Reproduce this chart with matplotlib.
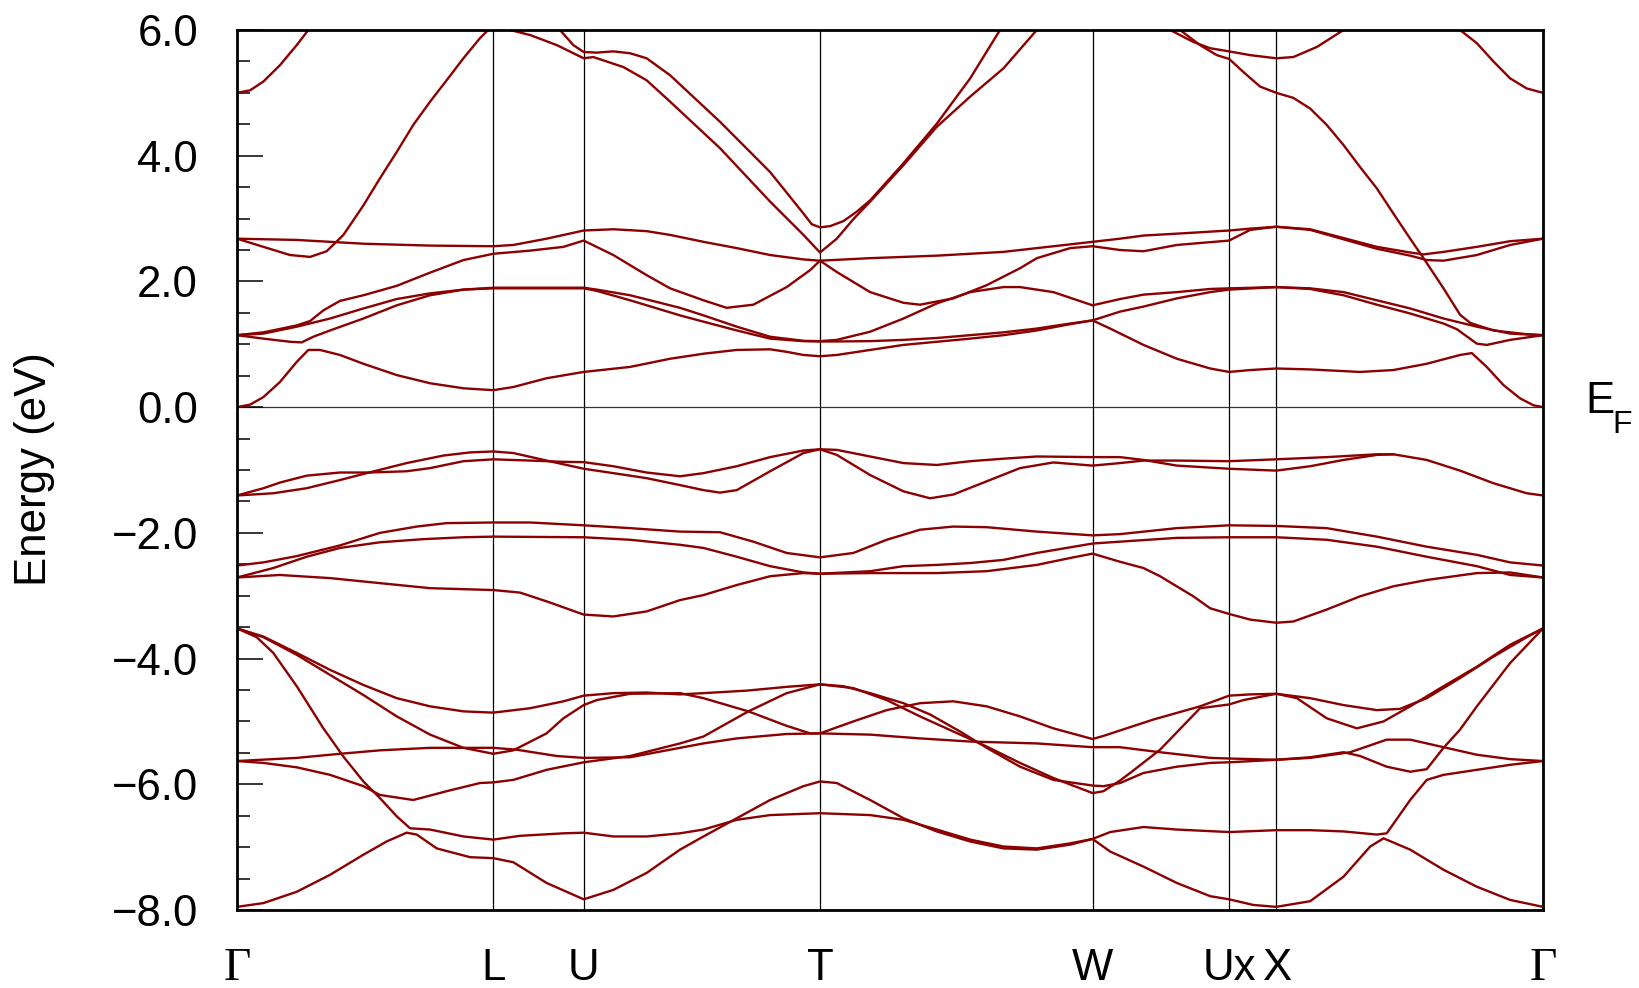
import matplotlib
matplotlib.use("Agg")
import matplotlib.pyplot as plt
from matplotlib.ticker import MultipleLocator, FuncFormatter

# ---------------- data ----------------
node_k = [0.0, 0.961, 1.30, 2.186, 3.208, 3.72, 3.897, 4.897]
node_labels = ["Γ", "L", "U", "T", "W", "Ux", "X", "Γ"]

# conduction bands
c1_k = [0, 0.049, 0.099, 0.161, 0.224, 0.2675, 0.311, 0.386, 0.474, 0.599, 0.724, 0.849, 0.961, 1.036, 1.161, 1.30,
        1.474, 1.624, 1.749, 1.874, 1.999, 2.061, 2.124, 2.186, 2.249, 2.374, 2.499, 2.624, 2.749, 2.874, 2.999, 3.124,
        3.208, 3.274, 3.399, 3.524, 3.649, 3.72, 3.799, 3.897, 4.024, 4.211, 4.336, 4.461, 4.586, 4.63, 4.686, 4.749,
        4.811, 4.861, 4.897]
c1_e = [0.0, 0.04, 0.16, 0.40, 0.72, 0.91, 0.91, 0.83, 0.69, 0.51, 0.38, 0.30, 0.27, 0.32, 0.46, 0.56,
        0.64, 0.77, 0.85, 0.91, 0.92, 0.88, 0.83, 0.81, 0.83, 0.91, 0.99, 1.04, 1.09, 1.145, 1.22, 1.32,
        1.38, 1.25, 0.99, 0.77, 0.615, 0.56, 0.59, 0.615, 0.60, 0.56, 0.59, 0.69, 0.83, 0.86, 0.64, 0.35,
        0.14, 0.03, 0.0]

c2_k = [0, 0.099, 0.199, 0.2425, 0.286, 0.349, 0.474, 0.599, 0.724, 0.849, 0.961, 1.099, 1.30, 1.349, 1.474, 1.661,
        1.749, 1.874, 1.999, 2.124, 2.186, 2.249, 2.374, 2.499, 2.624, 2.749, 2.874, 2.999, 3.124, 3.208, 3.311,
        3.399, 3.524, 3.649, 3.72, 3.897, 4.024, 4.149, 4.274, 4.399, 4.524, 4.649, 4.774, 4.897]
c2_e = [1.145, 1.09, 1.04, 1.03, 1.12, 1.22, 1.41, 1.62, 1.78, 1.87, 1.89, 1.89, 1.89, 1.85, 1.70, 1.46,
        1.36, 1.22, 1.09, 1.05, 1.045, 1.045, 1.05, 1.07, 1.10, 1.145, 1.19, 1.25, 1.33, 1.38, 1.52,
        1.60, 1.73, 1.83, 1.87, 1.91, 1.89, 1.83, 1.70, 1.57, 1.41, 1.28, 1.17, 1.145]

c3_k = [0, 0.099, 0.224, 0.349, 0.474, 0.599, 0.724, 0.849, 0.961, 1.099, 1.30, 1.349, 1.474, 1.661, 1.749, 1.874,
        1.999, 2.124, 2.186, 2.249, 2.374, 2.499, 2.624, 2.749, 2.874, 2.936, 3.061, 3.208, 3.311, 3.399, 3.524,
        3.649, 3.72, 3.897, 4.024, 4.149, 4.274, 4.399, 4.524, 4.574, 4.649, 4.686, 4.774, 4.897]
c3_e = [1.145, 1.17, 1.28, 1.41, 1.57, 1.72, 1.81, 1.87, 1.90, 1.90, 1.90, 1.87, 1.78, 1.58, 1.46, 1.28,
        1.12, 1.055, 1.05, 1.07, 1.20, 1.41, 1.65, 1.83, 1.91, 1.91, 1.83, 1.62, 1.72, 1.79, 1.83,
        1.88, 1.89, 1.91, 1.88, 1.78, 1.63, 1.49, 1.33, 1.24, 1.01, 0.99, 1.07, 1.145]

c4_k = [0, 0.099, 0.224, 0.274, 0.324, 0.386, 0.474, 0.599, 0.724, 0.849, 0.961, 1.099, 1.224, 1.30, 1.411, 1.536,
        1.624, 1.749, 1.836, 1.936, 2.061, 2.149, 2.186, 2.249, 2.374, 2.499, 2.561, 2.686, 2.811, 2.936, 2.999,
        3.124, 3.208, 3.311, 3.399, 3.524, 3.72, 3.799, 3.897, 4.024, 4.149, 4.274, 4.399, 4.461, 4.524, 4.649,
        4.774, 4.897]
c4_e = [1.145, 1.19, 1.30, 1.37, 1.54, 1.69, 1.78, 1.93, 2.14, 2.34, 2.44, 2.49, 2.55, 2.65, 2.42, 2.10,
        1.89, 1.70, 1.58, 1.63, 1.91, 2.18, 2.33, 2.15, 1.83, 1.66, 1.63, 1.73, 1.94, 2.21, 2.37,
        2.53, 2.56, 2.50, 2.48, 2.58, 2.65, 2.82, 2.87, 2.82, 2.67, 2.52, 2.41, 2.34, 2.33, 2.42,
        2.58, 2.68]

c5_k = [0, 0.224, 0.474, 0.724, 0.961, 1.036, 1.161, 1.30, 1.411, 1.536, 1.624, 1.749, 1.874, 1.999, 2.124, 2.186,
        2.374, 2.624, 2.874, 2.999, 3.208, 3.311, 3.399, 3.524, 3.72, 3.799, 3.897, 4.024, 4.149, 4.274, 4.399,
        4.449, 4.524, 4.649, 4.774, 4.897]
c5_e = [2.68, 2.66, 2.60, 2.57, 2.56, 2.58, 2.68, 2.81, 2.83, 2.80, 2.74, 2.63, 2.53, 2.42, 2.35, 2.33,
        2.37, 2.41, 2.47, 2.53, 2.63, 2.68, 2.73, 2.76, 2.81, 2.84, 2.87, 2.83, 2.69, 2.55, 2.46,
        2.43, 2.47, 2.55, 2.64, 2.68]

c6_k = [0, 0.099, 0.199, 0.274, 0.336, 0.399, 0.474, 0.536, 0.599, 0.661, 0.724, 0.786, 0.849, 0.911, 0.961, 1.024,
        1.099, 1.199, 1.30, 1.336, 1.449, 1.536, 1.624, 1.811, 1.999, 2.124, 2.186, 2.249, 2.311, 2.374, 2.499,
        2.624, 2.749, 2.874, 2.999, 3.061]
c6_e = [2.68, 2.55, 2.42, 2.39, 2.48, 2.74, 3.21, 3.64, 4.06, 4.49, 4.86, 5.20, 5.55, 5.87, 6.08, 6.0,
        5.92, 5.76, 5.55, 5.57, 5.41, 5.20, 4.86, 4.12, 3.27, 2.74, 2.46, 2.68, 2.99, 3.27, 3.85,
        4.46, 4.94, 5.39, 6.0, 6.35]

c7a_k = [0, 0.049, 0.099, 0.161, 0.224, 0.2675, 0.30]
c7a_e = [5.0, 5.04, 5.18, 5.44, 5.76, 6.0, 6.2]
c7b_k = [4.524, 4.586, 4.649, 4.711, 4.774, 4.836, 4.897]
c7b_e = [6.3, 6.0, 5.79, 5.50, 5.23, 5.07, 5.0]

h2_k = [1.161, 1.211, 1.261, 1.30, 1.349, 1.411, 1.474, 1.536, 1.624, 1.811, 1.999, 2.124, 2.155, 2.186, 2.224,
        2.274, 2.324, 2.374, 2.499, 2.624, 2.749, 2.861, 2.936]
h2_e = [6.3, 6.0, 5.76, 5.65, 5.64, 5.66, 5.63, 5.55, 5.28, 4.54, 3.74, 3.08, 2.91, 2.86, 2.88,
        2.96, 3.11, 3.29, 3.88, 4.51, 5.23, 6.0, 6.45]

hA_k = [3.461, 3.499, 3.586, 3.649, 3.72, 3.799, 3.897, 3.961, 4.049, 4.149, 4.199]
hA_e = [6.25, 6.0, 5.81, 5.71, 5.66, 5.60, 5.55, 5.57, 5.73, 6.0, 6.25]

hB_k = [3.499, 3.536, 3.611, 3.674, 3.72, 3.774, 3.836, 3.897, 3.961, 4.024, 4.086, 4.149, 4.211, 4.274, 4.336,
        4.399, 4.449, 4.524, 4.586, 4.624, 4.711, 4.836, 4.897]
hB_e = [6.25, 6.0, 5.76, 5.60, 5.54, 5.33, 5.10, 5.0, 4.92, 4.75, 4.49, 4.17, 3.82, 3.48, 3.08,
        2.68, 2.37, 1.89, 1.47, 1.34, 1.22, 1.16, 1.145]

# valence bands
vT1_k = [0, 0.136, 0.261, 0.386, 0.486, 0.636, 0.774, 0.874, 0.961, 1.036, 1.161, 1.30, 1.411, 1.536, 1.661, 1.749,
         1.811, 1.874, 1.999, 2.124, 2.186, 2.249, 2.374, 2.499, 2.599, 2.686, 2.811, 2.936, 3.061, 3.208, 3.311,
         3.399, 3.524, 3.72, 3.897, 4.086, 4.274, 4.336, 4.461, 4.586, 4.711, 4.836, 4.897]
vT1_e = [-1.405, -1.37, -1.29, -1.16, -1.05, -0.89, -0.77, -0.72, -0.705, -0.73, -0.85, -0.98, -1.05, -1.13, -1.24,
         -1.32, -1.36, -1.32, -1.02, -0.73, -0.67, -0.76, -1.08, -1.34, -1.45, -1.39, -1.18, -0.97, -0.88, -0.93,
         -0.89, -0.85, -0.85, -0.86, -0.83, -0.795, -0.75, -0.75, -0.84, -1.01, -1.21, -1.37, -1.405]

vT2_k = [0, 0.099, 0.161, 0.261, 0.386, 0.499, 0.636, 0.724, 0.849, 0.961, 1.099, 1.224, 1.30, 1.411, 1.536, 1.661,
         1.749, 1.874, 1.999, 2.124, 2.186, 2.249, 2.374, 2.499, 2.624, 2.749, 2.874, 2.999, 3.208, 3.311, 3.399,
         3.524, 3.72, 3.897, 4.024, 4.149, 4.274, 4.336]
vT2_e = [-1.405, -1.29, -1.20, -1.09, -1.04, -1.04, -1.02, -0.97, -0.86, -0.83, -0.85, -0.87, -0.875, -0.94, -1.04,
         -1.10, -1.05, -0.94, -0.795, -0.69, -0.67, -0.68, -0.785, -0.89, -0.92, -0.86, -0.82, -0.785, -0.795,
         -0.795, -0.84, -0.93, -0.98, -1.01, -0.94, -0.84, -0.76, -0.75]

vM1_k = [0, 0.099, 0.224, 0.386, 0.536, 0.674, 0.786, 0.961, 1.099, 1.30, 1.474, 1.661, 1.811, 1.936, 2.061, 2.186,
         2.311, 2.436, 2.561, 2.686, 2.811, 2.999, 3.208, 3.311, 3.524, 3.72, 3.897, 4.086, 4.274, 4.461, 4.649,
         4.774, 4.897]
vM1_e = [-2.52, -2.47, -2.37, -2.20, -2.00, -1.90, -1.845, -1.835, -1.835, -1.88, -1.925, -1.98, -1.99, -2.14,
         -2.32, -2.39, -2.32, -2.11, -1.95, -1.90, -1.91, -1.98, -2.04, -2.02, -1.925, -1.88, -1.89, -1.925,
         -2.06, -2.22, -2.35, -2.47, -2.52]

vM2_k = [0, 0.136, 0.261, 0.386, 0.536, 0.699, 0.849, 0.961, 1.30, 1.474, 1.661, 1.749, 1.874, 1.999, 2.124, 2.186,
         2.374, 2.499, 2.624, 2.749, 2.874, 2.999, 3.208, 3.311, 3.524, 3.72, 3.897, 4.086, 4.274, 4.461, 4.649,
         4.774, 4.897]
vM2_e = [-2.71, -2.56, -2.38, -2.24, -2.15, -2.10, -2.07, -2.06, -2.07, -2.11, -2.19, -2.24, -2.38, -2.53, -2.63,
         -2.65, -2.61, -2.53, -2.51, -2.48, -2.43, -2.32, -2.17, -2.14, -2.08, -2.07, -2.07, -2.11, -2.22, -2.38,
         -2.53, -2.67, -2.71]

vM3_k = [0, 0.161, 0.349, 0.536, 0.724, 0.961, 1.061, 1.161, 1.30, 1.411, 1.536, 1.661, 1.749, 1.874, 1.999, 2.124,
         2.186, 2.374, 2.624, 2.811, 2.999, 3.124, 3.208, 3.311, 3.399, 3.461, 3.586, 3.649, 3.72, 3.799, 3.897,
         3.961, 4.086, 4.211, 4.336, 4.461, 4.649, 4.774, 4.897]
vM3_e = [-2.71, -2.67, -2.72, -2.80, -2.88, -2.91, -2.95, -3.09, -3.30, -3.33, -3.25, -3.07, -2.99, -2.83, -2.69,
         -2.64, -2.65, -2.64, -2.64, -2.61, -2.51, -2.40, -2.33, -2.46, -2.56, -2.69, -3.01, -3.20, -3.29, -3.38,
         -3.43, -3.41, -3.22, -3.01, -2.85, -2.75, -2.64, -2.63, -2.71]

v6a_k = [0, 0.099, 0.224, 0.349, 0.474, 0.599, 0.724, 0.849, 0.961, 1.099, 1.224, 1.30, 1.411, 1.536, 1.661, 1.749,
         1.911, 2.061, 2.186, 2.311, 2.436, 2.561, 2.686, 2.811, 2.936, 3.061, 3.208, 3.249, 3.311, 3.349, 3.461,
         3.611, 3.72, 3.774, 3.897, 3.974, 4.086, 4.199, 4.299, 4.399, 4.524, 4.649, 4.774, 4.897]
v6a_e = [-3.52, -3.65, -3.91, -4.18, -4.42, -4.63, -4.76, -4.84, -4.86, -4.79, -4.68, -4.59, -4.55, -4.54, -4.57,
         -4.55, -4.51, -4.45, -4.41, -4.47, -4.66, -4.92, -5.16, -5.40, -5.66, -5.90, -6.14, -6.11, -5.94, -5.82,
         -5.45, -4.79, -4.73, -4.66, -4.56, -4.63, -4.95, -5.11, -5.00, -4.76, -4.44, -4.13, -3.78, -3.52]

v6b_k = [0, 0.099, 0.224, 0.349, 0.474, 0.599, 0.724, 0.849, 0.961, 1.036, 1.161, 1.224, 1.30, 1.349, 1.474, 1.661,
         1.749, 1.9175, 2.061, 2.149, 2.186, 2.311, 2.436, 2.561, 2.686, 2.811, 2.936, 3.061, 3.208, 3.249, 3.436,
         3.611, 3.72, 3.799, 3.897, 4.024, 4.149, 4.274, 4.361, 4.461, 4.586, 4.711, 4.836, 4.897]
v6b_e = [-3.52, -3.66, -3.94, -4.26, -4.58, -4.92, -5.21, -5.42, -5.515, -5.46, -5.19, -4.95, -4.74, -4.66, -4.56,
         -4.55, -4.63, -4.84, -5.07, -5.19, -5.19, -5.00, -4.82, -4.71, -4.68, -4.76, -4.92, -5.11, -5.28, -5.23,
         -4.97, -4.76, -4.59, -4.57, -4.56, -4.63, -4.74, -4.82, -4.80, -4.63, -4.31, -3.97, -3.66, -3.52]

v2_k = [0, 0.099, 0.224, 0.349, 0.474, 0.536, 0.661, 0.786, 0.911, 0.961, 1.036, 1.161, 1.30, 1.474, 1.661, 1.749,
        1.9175, 2.061, 2.186, 2.274, 2.374, 2.499, 2.599, 2.711, 2.811, 2.936, 3.061, 3.208, 3.249, 3.311, 3.399,
        3.524, 3.649, 3.72, 3.897, 4.024, 4.149, 4.211, 4.311, 4.399, 4.461, 4.524, 4.586, 4.649, 4.774, 4.897]
v2_e = [-5.63, -5.66, -5.73, -5.85, -6.03, -6.17, -6.25, -6.11, -5.98, -5.97, -5.93, -5.77, -5.65, -5.55, -5.35,
        -5.24, -4.84, -4.55, -4.41, -4.44, -4.55, -4.71, -4.89, -5.16, -5.42, -5.72, -5.93, -6.02, -6.03, -5.98,
        -5.82, -5.72, -5.66, -5.65, -5.61, -5.57, -5.49, -5.55, -5.72, -5.80, -5.76, -5.42, -5.13, -4.76, -4.07,
        -3.52]

v3_k = [0, 0.224, 0.386, 0.536, 0.724, 0.961, 1.049, 1.199, 1.30, 1.474, 1.661, 1.749, 1.874, 2.061, 2.186, 2.374,
        2.561, 2.749, 2.999, 3.208, 3.311, 3.461, 3.649, 3.72, 3.897, 4.024, 4.174, 4.311, 4.399, 4.524, 4.649,
        4.774, 4.897]
v3_e = [-5.63, -5.58, -5.515, -5.46, -5.42, -5.42, -5.45, -5.55, -5.58, -5.57, -5.42, -5.35, -5.27, -5.20, -5.19,
        -5.21, -5.27, -5.32, -5.35, -5.41, -5.41, -5.49, -5.58, -5.59, -5.61, -5.58, -5.49, -5.29, -5.29, -5.41,
        -5.53, -5.60, -5.63]

v4_k = [0, 0.074, 0.136, 0.224, 0.324, 0.399, 0.474, 0.536, 0.599, 0.649, 0.724, 0.849, 0.961, 1.061, 1.224, 1.30,
        1.411, 1.536, 1.661, 1.749, 1.874, 1.999, 2.186, 2.374, 2.499, 2.624, 2.749, 2.874, 2.999, 3.124, 3.208,
        3.274, 3.399, 3.524, 3.72, 3.897, 4.024, 4.149, 4.274, 4.311, 4.399, 4.461, 4.524, 4.649, 4.774, 4.897]
v4_e = [-3.52, -3.66, -3.91, -4.44, -5.11, -5.56, -5.955, -6.22, -6.51, -6.70, -6.72, -6.83, -6.88, -6.82, -6.78,
        -6.77, -6.83, -6.83, -6.78, -6.72, -6.565, -6.49, -6.46, -6.49, -6.565, -6.72, -6.88, -6.99, -7.02, -6.94,
        -6.87, -6.76, -6.68, -6.72, -6.76, -6.73, -6.73, -6.75, -6.80, -6.78, -6.25, -5.93, -5.85, -5.77, -5.69,
        -5.63]

v1_k = [0, 0.099, 0.224, 0.349, 0.474, 0.561, 0.636, 0.674, 0.749, 0.874, 0.961, 1.036, 1.161, 1.30, 1.411, 1.536,
        1.661, 1.749, 1.874, 1.999, 2.124, 2.186, 2.249, 2.374, 2.499, 2.624, 2.749, 2.874, 2.999, 3.124, 3.208,
        3.274, 3.399, 3.524, 3.649, 3.72, 3.811, 3.897, 4.024, 4.149, 4.249, 4.299, 4.399, 4.524, 4.649, 4.774,
        4.897]
v1_e = [-7.95, -7.89, -7.71, -7.44, -7.12, -6.91, -6.77, -6.80, -7.02, -7.16, -7.175, -7.24, -7.57, -7.83, -7.68,
        -7.41, -7.04, -6.83, -6.54, -6.25, -6.03, -5.955, -5.98, -6.25, -6.54, -6.75, -6.91, -7.02, -7.04, -6.96,
        -6.87, -7.07, -7.31, -7.57, -7.78, -7.83, -7.92, -7.95, -7.86, -7.47, -6.99, -6.86, -7.04, -7.36, -7.63,
        -7.84, -7.95]

bands = [(c1_k, c1_e), (c2_k, c2_e), (c3_k, c3_e), (c4_k, c4_e), (c5_k, c5_e), (c6_k, c6_e),
         (c7a_k, c7a_e), (c7b_k, c7b_e), (h2_k, h2_e), (hA_k, hA_e), (hB_k, hB_e),
         (vT1_k, vT1_e), (vT2_k, vT2_e), (vM1_k, vM1_e), (vM2_k, vM2_e), (vM3_k, vM3_e),
         (v6a_k, v6a_e), (v6b_k, v6b_e), (v2_k, v2_e), (v3_k, v3_e), (v4_k, v4_e), (v1_k, v1_e)]

# ---------------- figure ----------------
plt.rcParams['font.family'] = ['Liberation Sans', 'DejaVu Sans']
fig = plt.figure(figsize=(16.4, 9.88), dpi=100)
ax = fig.add_axes([237 / 1640, 1 - 910 / 988, (1543 - 237) / 1640, (910 - 30) / 988])

band_color = '#8b0000'
for kk in node_k[1:-1]:
    ax.axvline(kk, color='black', lw=0.9, zorder=1)
ax.axhline(0.0, color='#333333', lw=0.9, zorder=1)
for kk, ee in bands:
    ax.plot(kk, ee, color=band_color, lw=1.7, zorder=2, solid_joinstyle='round')

ax.set_xlim(node_k[0], node_k[-1])
ax.set_ylim(-8.0, 6.0)

ax.yaxis.set_major_locator(MultipleLocator(2.0))
ax.yaxis.set_minor_locator(MultipleLocator(0.5))
ax.yaxis.set_major_formatter(FuncFormatter(lambda v, p: f"{v:.1f}".replace('-', '\u2212')))
ax.tick_params(axis='y', which='major', direction='in', length=19, width=1.1, labelsize=31.5, pad=28,
               left=True, right=False)
ax.tick_params(axis='y', which='minor', direction='in', length=9.5, width=1.1, left=True, right=False)

ax.set_xticks(node_k)
ax.set_xticklabels(node_labels)
ax.tick_params(axis='x', length=0, labelsize=31.5, pad=27)
for lbl in ax.get_xticklabels():
    if lbl.get_text() == 'Γ':
        lbl.set_fontfamily(['Liberation Serif', 'DejaVu Serif'])
        lbl.set_fontsize(34)

for sp in ax.spines.values():
    sp.set_linewidth(2.0)
    sp.set_zorder(3)

fig.text(35 / 1640, 1 - 469 / 988, "Energy (eV)", rotation=90, ha='center', va='center', fontsize=31.5)
fig.text(1585 / 1640, 1 - 413 / 988, "E", ha='left', va='baseline', fontsize=31.5)
fig.text(1612 / 1640, 1 - 433 / 988, "F", ha='left', va='baseline', fontsize=23)

fig.savefig("out.png", dpi=100)
